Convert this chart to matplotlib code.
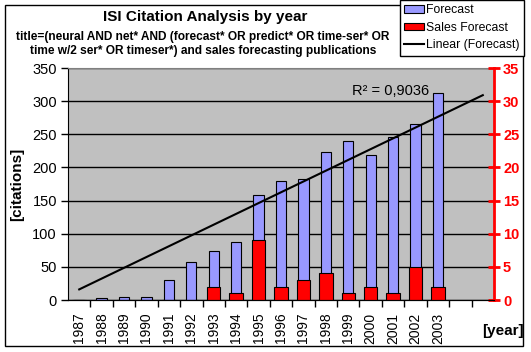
import matplotlib.pyplot as plt
from matplotlib.patches import Patch, Rectangle
from matplotlib.lines import Line2D
import numpy as np

plt.rcParams['font.family'] = ['Liberation Sans', 'DejaVu Sans']

# data
years = [1987, 1988, 1989, 1990, 1991, 1992, 1993, 1994, 1995,
         1996, 1997, 1998, 1999, 2000, 2001, 2002, 2003]
forecast = [0, 3, 5, 5, 30, 58, 74, 88, 159, 180, 182, 224, 240, 218, 246, 265, 312]
sales_forecast = [0, 0, 0, 0, 0, 0, 2, 1, 9, 2, 3, 4, 1, 2, 1, 5, 2]
trend_years = [1987, 2005]
trend_values = [16, 309]
r2_text = 'R\u00b2 = 0,9036'
n_slots = 19  # 1987 .. 2005, last two empty

fig = plt.figure(figsize=(5.31, 3.52), dpi=100)
W, H = 531, 352
ax = fig.add_axes([68 / W, 1 - 300 / H, (494 - 68) / W, (300 - 68) / H])
ax2 = ax.twinx()

x = np.arange(len(years))

# left axis: forecast bars
ax.set_facecolor('#C0C0C0')
ax.set_axisbelow(True)
ax.yaxis.grid(True, color='black', lw=1)
ax.bar(x, forecast, width=0.46, color='#9999FF', edgecolor='black', lw=0.8, zorder=2)
ax.set_xlim(-0.5, n_slots - 0.5)
ax.set_ylim(0, 350)
ax.set_yticks(np.arange(0, 351, 50))
ax.set_xticks(x)
ax.set_xticklabels([str(y) for y in years], rotation=90, fontsize=10)
ax.set_xticks(np.arange(0.5, n_slots - 1, 1), minor=True)
ax.tick_params(axis='x', which='major', length=0, pad=9)
ax.tick_params(axis='x', which='minor', length=5, width=1, color='black')
ax.tick_params(axis='y', length=5, width=1, labelsize=10.5, pad=3)
ax.spines['top'].set_color('#808080')
ax.spines['right'].set_visible(False)

# right axis: sales forecast bars
ax2.bar(x, sales_forecast, width=0.6, color='#FF0000', edgecolor='black', lw=0.8, zorder=2)
ax2.set_ylim(0, 35)
ax2.set_yticks(np.arange(0, 36, 5))
ax2.spines['right'].set_color('#FF0000')
ax2.spines['right'].set_linewidth(2)
ax2.spines['top'].set_visible(False)
ax2.spines['left'].set_visible(False)
ax2.tick_params(axis='y', colors='#FF0000', direction='inout', length=9, width=2,
                labelsize=10.5, pad=2)
for lab in ax2.get_yticklabels():
    lab.set_fontweight('bold')

# linear trend on top, in citation units
tx = [y - years[0] for y in trend_years]
ax2.plot(tx, trend_values, color='black', lw=1.5, transform=ax.transData, zorder=3)
ax2.text(13.9, 316, r2_text, transform=ax.transData, fontsize=10.5,
         ha='center', va='center', zorder=4)

ax.set_ylabel('[citations]', fontsize=11, fontweight='bold', labelpad=6)
fig.text(503 / W, 1 - 331 / H, '[year]', fontsize=11, fontweight='bold',
         ha='center', va='center')

fig.text(205 / W, 1 - 17 / H, 'ISI Citation Analysis by year', fontsize=11,
         fontweight='bold', ha='center', va='center')
fig.text(203 / W, 1 - 44 / H,
         "title=(neural AND net* AND (forecast* OR predict* OR time-ser* OR\n"
         "time w/2 ser* OR timeser*) and sales forecasting publications",
         fontsize=8.6, fontweight='bold', ha='center', va='center', linespacing=1.15)

handles = [Patch(facecolor='#9999FF', edgecolor='black', lw=0.8),
           Patch(facecolor='#FF0000', edgecolor='black', lw=0.8),
           Line2D([], [], color='black', lw=1.5)]
leg = fig.legend(handles, ['Forecast', 'Sales Forecast', 'Linear (Forecast)'],
                 loc='upper right', bbox_to_anchor=(524 / W, 1.0), fontsize=8.8,
                 frameon=True, fancybox=False, framealpha=1, edgecolor='black',
                 borderpad=0.35, labelspacing=0.45, handlelength=1.6,
                 handleheight=0.6, handletextpad=0.2, borderaxespad=0)
leg.get_frame().set_linewidth(1)
leg.set_zorder(5)

# outer chart border
fig.patches.append(Rectangle((5 / W, 1 - 346 / H), 518 / W, 341 / H,
                             transform=fig.transFigure, fill=False,
                             ec='black', lw=1))

fig.savefig('out.png', dpi=100)
